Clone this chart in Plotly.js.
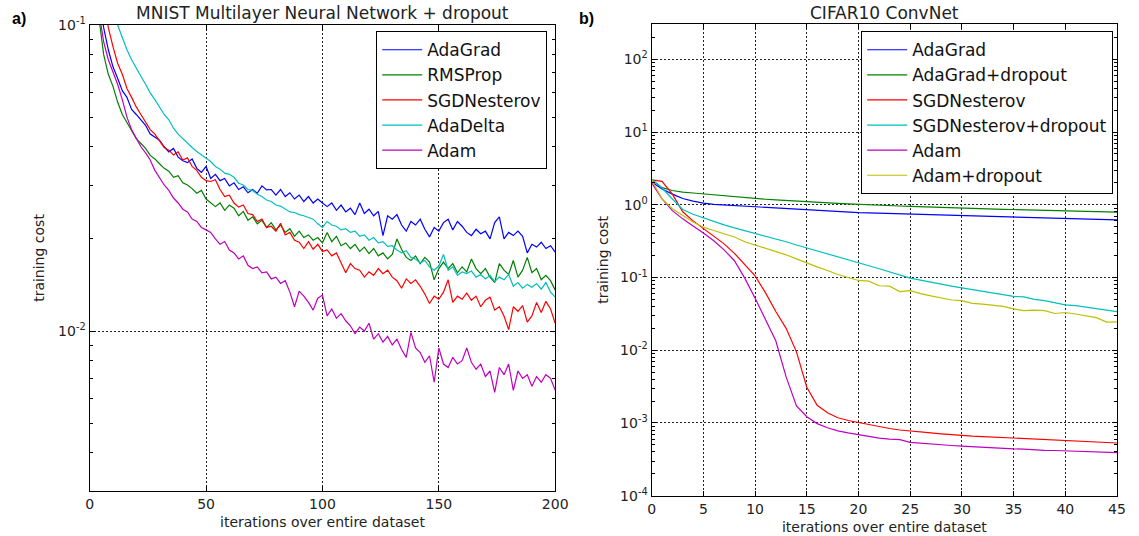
<!DOCTYPE html>
<html><head><meta charset="utf-8">
<script src="https://cdn.plot.ly/plotly-3.0.1.min.js"></script>
<style>html,body{margin:0;padding:0;background:#fff;}#chart{width:1139px;height:536px;}</style>
</head><body><div id="chart"></div>
<script>
// ---------- Panel a) MNIST ----------
const mnistIter = [0,2,4,6,8,10,12,14,16,18,20,22,24,26,28,30,32,34,36,38,40,42,44,46,48,50,52,54,56,58,60,62,64,66,68,70,72,74,76,78,80,82,84,86,88,90,92,94,96,98,100,102,104,106,108,110,112,114,116,118,120,122,124,126,128,130,132,134,136,138,140,142,144,146,148,150,152,154,156,158,160,162,164,166,168,170,172,174,176,178,180,182,184,186,188,190,192,194,196,198,200];
const mnistAdaGrad = [0.35,0.19,0.125,0.098,0.083,0.073,0.067,0.061,0.058,0.053,0.051,0.049,0.047,0.044,0.043,0.042,0.040,0.0385,0.0395,0.037,0.036,0.0355,0.0365,0.034,0.033,0.0345,0.0315,0.0325,0.031,0.0315,0.0298,0.0305,0.029,0.0296,0.0283,0.029,0.0282,0.0298,0.0289,0.029,0.0278,0.029,0.0275,0.0283,0.027,0.0278,0.0265,0.0275,0.0262,0.027,0.0262,0.0255,0.0262,0.0248,0.0258,0.0245,0.0252,0.024,0.0262,0.0242,0.025,0.0238,0.0246,0.0205,0.0238,0.0232,0.024,0.0222,0.0212,0.0228,0.0222,0.0232,0.0215,0.0203,0.0218,0.0212,0.0226,0.0232,0.0214,0.0228,0.022,0.021,0.0205,0.0215,0.0208,0.0212,0.02,0.0226,0.0236,0.02,0.021,0.0205,0.0212,0.0204,0.018,0.0192,0.0188,0.0195,0.0186,0.019,0.0181];
const mnistRMSProp = [0.3,0.16,0.105,0.08,0.069,0.063,0.056,0.051,0.048,0.045,0.0425,0.041,0.0395,0.0375,0.0365,0.0352,0.034,0.0333,0.0318,0.0322,0.0305,0.03,0.0292,0.0282,0.0288,0.027,0.0262,0.0255,0.0262,0.0248,0.0258,0.0252,0.0238,0.0246,0.023,0.0236,0.0224,0.023,0.0218,0.0226,0.0214,0.0222,0.021,0.0216,0.0204,0.0212,0.0202,0.0206,0.0198,0.0202,0.0194,0.021,0.0196,0.0204,0.019,0.0194,0.0186,0.0192,0.0182,0.0188,0.0179,0.0186,0.0176,0.018,0.0172,0.0178,0.02,0.0185,0.0174,0.017,0.0176,0.0166,0.0174,0.0168,0.0147,0.016,0.0168,0.016,0.0166,0.0155,0.0162,0.0156,0.0172,0.016,0.0154,0.016,0.015,0.0144,0.0166,0.0158,0.0153,0.017,0.015,0.0158,0.0174,0.0155,0.016,0.0147,0.0152,0.0146,0.0136];
const mnistSGDNesterov = [0.45,0.28,0.17,0.12,0.098,0.085,0.075,0.069,0.062,0.058,0.054,0.051,0.048,0.0455,0.044,0.042,0.0398,0.039,0.0376,0.0385,0.0362,0.0368,0.0345,0.0335,0.0318,0.031,0.0308,0.0312,0.029,0.0275,0.0278,0.0262,0.0254,0.0258,0.0242,0.024,0.0228,0.0232,0.0218,0.022,0.0212,0.0225,0.0206,0.021,0.0198,0.0195,0.0186,0.0196,0.0185,0.0192,0.0182,0.0184,0.0176,0.018,0.0168,0.0155,0.0166,0.016,0.0158,0.015,0.0156,0.0152,0.016,0.0154,0.0158,0.015,0.0146,0.0138,0.0148,0.0143,0.0147,0.014,0.0132,0.0123,0.013,0.0127,0.0134,0.0147,0.0124,0.013,0.0127,0.0133,0.0126,0.013,0.012,0.0126,0.0129,0.0117,0.012,0.0112,0.0101,0.012,0.0116,0.0121,0.0107,0.0112,0.0124,0.0115,0.0125,0.0118,0.0106];
const mnistAdaDelta = [0.9,0.5,0.3,0.2,0.15,0.12,0.1,0.091,0.083,0.077,0.072,0.068,0.064,0.06,0.057,0.054,0.051,0.049,0.046,0.044,0.0425,0.0412,0.0398,0.0386,0.0377,0.0368,0.0358,0.0345,0.0338,0.0328,0.0325,0.0318,0.0304,0.03,0.029,0.0288,0.028,0.0275,0.0268,0.0265,0.0258,0.0256,0.025,0.0245,0.0244,0.024,0.0238,0.0235,0.0232,0.0224,0.0218,0.0228,0.0222,0.022,0.0214,0.0216,0.021,0.0212,0.0204,0.0206,0.0198,0.0202,0.0194,0.0196,0.0189,0.019,0.0184,0.018,0.0183,0.0174,0.0172,0.0167,0.017,0.0162,0.0158,0.0163,0.0178,0.0158,0.0162,0.0152,0.0156,0.0154,0.0157,0.015,0.0153,0.0148,0.0152,0.0145,0.015,0.0147,0.0153,0.014,0.0144,0.0138,0.0142,0.0139,0.0143,0.0137,0.0144,0.0134,0.0129];
const mnistAdam = [0.3,0.16,0.11,0.088,0.077,0.07,0.064,0.057,0.05,0.0455,0.0425,0.04,0.0382,0.0362,0.0335,0.0318,0.03,0.0288,0.0272,0.0262,0.025,0.0245,0.0232,0.0228,0.0218,0.0214,0.021,0.02,0.0192,0.0196,0.0184,0.018,0.0172,0.0176,0.0164,0.016,0.0162,0.0155,0.0156,0.0148,0.015,0.0143,0.0146,0.0134,0.012,0.0135,0.013,0.0124,0.0117,0.0128,0.0131,0.0112,0.0118,0.011,0.0114,0.0108,0.0104,0.0098,0.0103,0.01,0.0106,0.0094,0.0098,0.0092,0.0096,0.009,0.0094,0.0087,0.0082,0.0099,0.0088,0.0085,0.0079,0.0083,0.0068,0.0088,0.0078,0.0076,0.0082,0.0078,0.008,0.0088,0.0079,0.0075,0.0078,0.0071,0.0074,0.0063,0.0076,0.0072,0.0078,0.0064,0.0074,0.007,0.0072,0.0066,0.0071,0.0068,0.0072,0.007,0.0064];
const mnistNames = ['AdaGrad','RMSProp','SGDNesterov','AdaDelta','Adam'];

// ---------- Panel b) CIFAR10 ----------
const cifarIter = [0,1,2,3,4,5,6,7,8,9,10,11,12,13,14,15,16,17,18,19,20,21,22,23,24,25,26,27,28,29,30,31,32,33,34,35,36,37,38,39,40,41,42,43,44,45];
const cifarAdaGrad = [2.05,1.65,1.4,1.22,1.12,1.05,1.01,0.99,0.97,0.952,0.935,0.915,0.895,0.88,0.865,0.85,0.835,0.82,0.805,0.792,0.78,0.772,0.765,0.758,0.751,0.745,0.737,0.729,0.721,0.713,0.705,0.7,0.695,0.69,0.685,0.68,0.674,0.668,0.662,0.656,0.65,0.644,0.638,0.632,0.626,0.62];
const cifarAdaGradDrop = [2.2,1.72,1.57,1.49,1.45,1.41,1.36,1.31,1.27,1.24,1.22,1.19,1.165,1.14,1.12,1.095,1.075,1.06,1.045,1.028,1.01,0.998,0.986,0.974,0.962,0.95,0.938,0.926,0.914,0.902,0.89,0.884,0.878,0.872,0.866,0.86,0.854,0.848,0.842,0.836,0.83,0.822,0.814,0.806,0.798,0.79];
const cifarSGDNesterov = [2.2,2.1,1.4,0.8,0.6,0.47,0.37,0.29,0.215,0.15,0.105,0.062,0.034,0.02,0.0095,0.0031,0.00175,0.00138,0.00118,0.00108,0.00101,0.00095,0.00089,0.00084,0.0008,0.00077,0.00075,0.00073,0.00071,0.00069,0.00067,0.00066,0.00065,0.00064,0.00063,0.00062,0.00061,0.0006,0.00059,0.000585,0.00058,0.00057,0.00056,0.00055,0.00054,0.00053];
const cifarSGDNesterovDrop = [2.25,1.7,1.2,0.86,0.74,0.66,0.59,0.53,0.48,0.44,0.41,0.37,0.34,0.31,0.28,0.254,0.232,0.212,0.192,0.175,0.158,0.145,0.132,0.12,0.109,0.098,0.092,0.086,0.081,0.076,0.072,0.068,0.065,0.061,0.058,0.055,0.054,0.05,0.048,0.045,0.042,0.041,0.039,0.037,0.0355,0.034];
const cifarAdam = [2.0,1.2,0.83,0.64,0.51,0.41,0.32,0.24,0.17,0.098,0.052,0.027,0.0135,0.0043,0.00172,0.00122,0.00098,0.00086,0.00078,0.00073,0.00069,0.00065,0.00062,0.0006,0.00059,0.00054,0.00053,0.00052,0.000505,0.00049,0.00048,0.00047,0.000462,0.000455,0.000448,0.00044,0.000436,0.000425,0.00042,0.000418,0.000412,0.000407,0.000402,0.000398,0.000394,0.00039];
const cifarAdamDrop = [2.2,1.2,0.88,0.72,0.58,0.49,0.44,0.4,0.36,0.31,0.28,0.255,0.23,0.205,0.18,0.158,0.14,0.125,0.11,0.1,0.091,0.089,0.077,0.076,0.064,0.066,0.06,0.056,0.052,0.049,0.048,0.044,0.043,0.041,0.04,0.037,0.035,0.0355,0.035,0.032,0.033,0.0315,0.03,0.028,0.0244,0.0245];
const cifarNames = ['AdaGrad','AdaGrad+dropout','SGDNesterov','SGDNesterov+dropout','Adam','Adam+dropout'];

const mnistYTicks = [0.01, 0.1];
const mnistYTickText = ['10<sup>-2</sup>','10<sup>-1</sup>'];
const mnistXTicks = [0,50,100,150,200];
const cifarYTicks = [0.0001,0.001,0.01,0.1,1,10,100];
const cifarYTickText = ['10<sup>-4</sup>','10<sup>-3</sup>','10<sup>-2</sup>','10<sup>-1</sup>','10<sup>0</sup>','10<sup>1</sup>','10<sup>2</sup>'];
const cifarXTicks = [0,5,10,15,20,25,30,35,40,45];

const FONT = 'DejaVu Sans, sans-serif';
const W = 1139, H = 536;
const colMnist = ['#0000ff','#008000','#ff0000','#00bfbf','#bf00bf'];
const colCifar = ['#0000ff','#008000','#ff0000','#00bfbf','#bf00bf','#bfbf00'];

function minorLog(lo, hi){ // minor tick positions 2..9 per decade within [lo,hi]
  const out=[]; for(let e=-6;e<=3;e++){ for(let m=2;m<=9;m++){ const v=m*Math.pow(10,e); if(v>=lo*0.999 && v<=hi*1.001) out.push(v);} } return out;
}

const mnistSeries = [mnistAdaGrad, mnistRMSProp, mnistSGDNesterov, mnistAdaDelta, mnistAdam];
const cifarSeries = [cifarAdaGrad, cifarAdaGradDrop, cifarSGDNesterov, cifarSGDNesterovDrop, cifarAdam, cifarAdamDrop];

const traces = [];
mnistSeries.forEach((s,i)=>traces.push({x:mnistIter,y:s,name:mnistNames[i],type:'scatter',mode:'lines',
  line:{color:colMnist[i],width:1.2},xaxis:'x',yaxis:'y',legend:'legend',legendgroup:'a'+i}));
cifarSeries.forEach((s,i)=>traces.push({x:cifarIter,y:s,name:cifarNames[i],type:'scatter',mode:'lines',
  line:{color:colCifar[i],width:1.2},xaxis:'x2',yaxis:'y2',legend:'legend2',legendgroup:'b'+i}));

const common = {showline:true,linecolor:'#000',linewidth:1.2,mirror:'allticks',ticks:'inside',ticklen:5,tickcolor:'#000',tickwidth:1,
  showgrid:true,gridcolor:'#222',griddash:'2px,2px',gridwidth:1,zeroline:false,
  tickfont:{family:FONT,size:14,color:'#222'}};

const legendCommon = {xanchor:'right',y:(H-31)/H,yanchor:'top',bgcolor:'#fff',bordercolor:'#000',borderwidth:1.2,
  font:{family:FONT,size:17,color:'#111'},tracegroupgap:2,traceorder:'normal',itemwidth:40};

const layout = {
  width:W,height:H,autosize:false,margin:{l:0,r:0,t:0,b:0},paper_bgcolor:'#fff',plot_bgcolor:'#fff',
  font:{family:FONT,color:'#222'},
  xaxis:Object.assign({},common,{domain:[89.7/W,555.2/W],range:[0,200],tickmode:'array',tickvals:mnistXTicks,anchor:'y',
    title:{text:'iterations over entire dataset',standoff:6,font:{family:FONT,size:14,color:'#222'}}}),
  yaxis:Object.assign({},common,{domain:[(H-491)/H,(H-25)/H],type:'log',range:[Math.log10(0.003),-1],tickmode:'array',
    tickvals:mnistYTicks,ticktext:mnistYTickText,anchor:'x',
    minor:{tickmode:'array',tickvals:minorLog(0.003,0.1),ticks:'inside',ticklen:3,tickcolor:'#000',showgrid:false},
    title:{text:'training cost',standoff:10,font:{family:FONT,size:14,color:'#222'}}}),
  xaxis2:Object.assign({},common,{domain:[651.7/W,1117/W],range:[0,45],tickmode:'array',tickvals:cifarXTicks,anchor:'y2',
    title:{text:'iterations over entire dataset',standoff:6,font:{family:FONT,size:14,color:'#222'}}}),
  yaxis2:Object.assign({},common,{domain:[(H-495.7)/H,(H-24)/H],type:'log',range:[-4,2.485],tickmode:'array',
    tickvals:cifarYTicks,ticktext:cifarYTickText,anchor:'x2',
    minor:{tickmode:'array',tickvals:minorLog(0.0001,300),ticks:'inside',ticklen:3,tickcolor:'#000',showgrid:false},
    title:{text:'training cost',standoff:8,font:{family:FONT,size:14,color:'#222'}}}),
  legend:Object.assign({},legendCommon,{x:547/W}),
  legend2:Object.assign({},legendCommon,{x:1113/W}),
  annotations:[
    {text:'MNIST Multilayer Neural Network + dropout',xref:'paper',yref:'paper',x:(89.7+555.2)/2/W,y:(H-13)/H,xanchor:'center',yanchor:'middle',showarrow:false,font:{family:FONT,size:17,color:'#222'}},
    {text:'CIFAR10 ConvNet',xref:'paper',yref:'paper',x:(651.7+1117)/2/W,y:(H-13)/H,xanchor:'center',yanchor:'middle',showarrow:false,font:{family:FONT,size:17,color:'#222'}},
    {text:'<b>a)</b>',xref:'paper',yref:'paper',x:10/W,y:(H-18)/H,xanchor:'left',yanchor:'middle',showarrow:false,font:{family:'Liberation Sans, Arial, sans-serif',size:16,color:'#000'}},
    {text:'<b>b)</b>',xref:'paper',yref:'paper',x:577/W,y:(H-18)/H,xanchor:'left',yanchor:'middle',showarrow:false,font:{family:'Liberation Sans, Arial, sans-serif',size:16,color:'#000'}}
  ],
  showlegend:true
};

Plotly.newPlot('chart', traces, layout, {displayModeBar:false, staticPlot:true});
</script>
</body></html>
